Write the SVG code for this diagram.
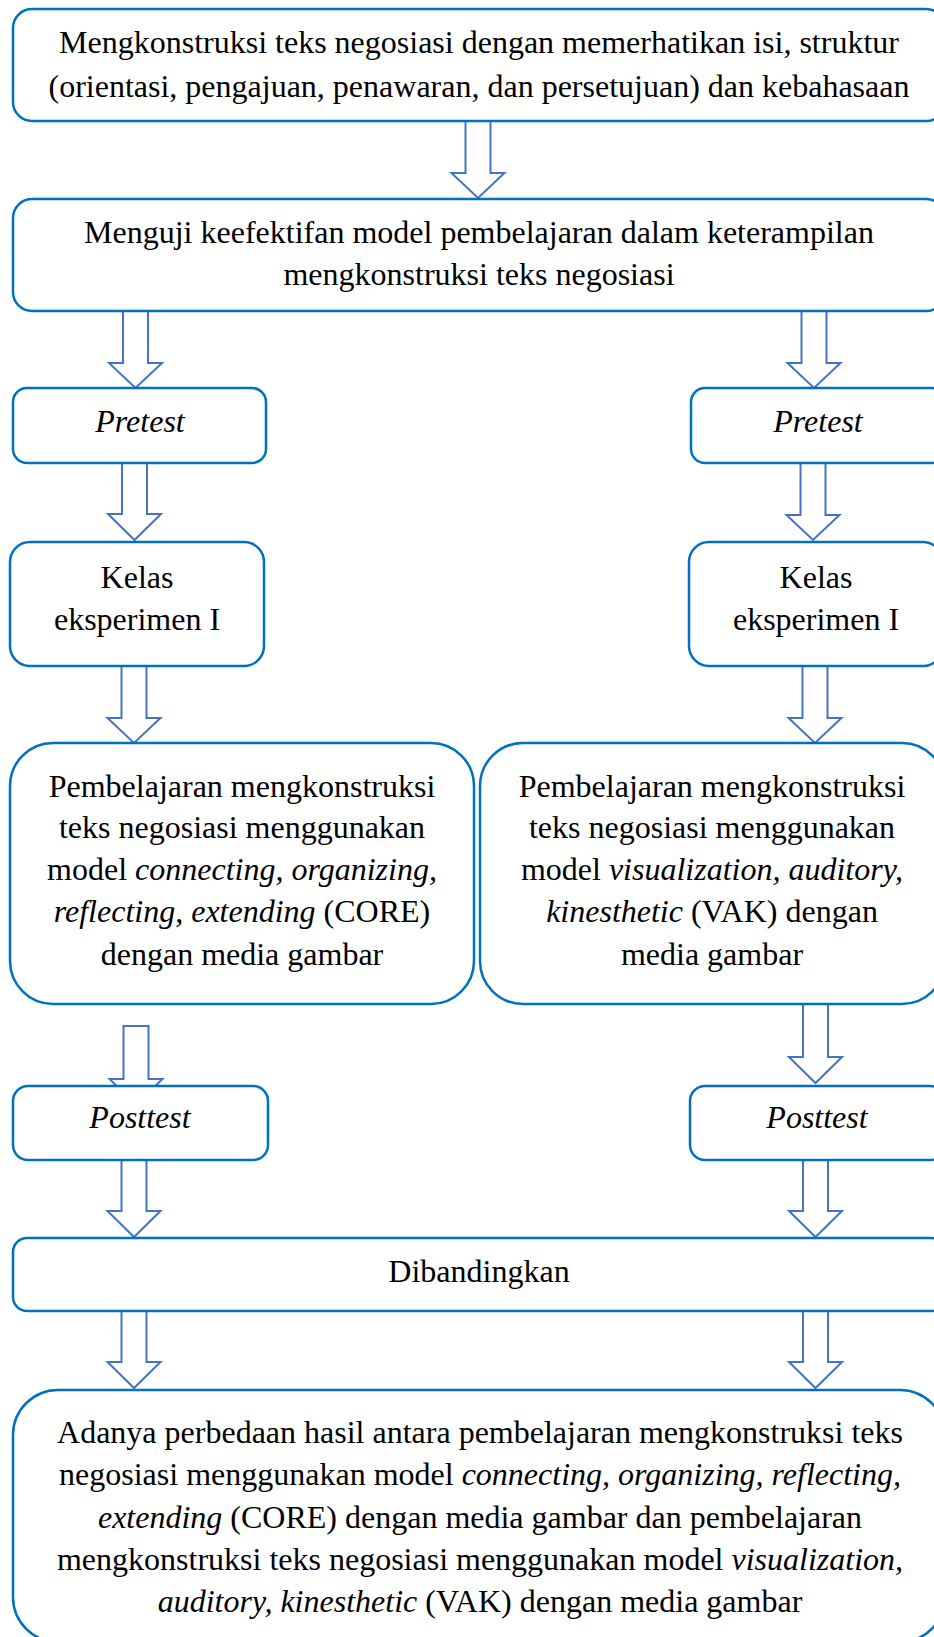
<svg xmlns="http://www.w3.org/2000/svg" width="934" height="1637" viewBox="0 0 934 1637">
  <style>
    .box { fill: #ffffff; stroke: #0070C0; stroke-width: 2.5; }
    .arrow { fill: #ffffff; stroke: #4472C4; stroke-width: 2; stroke-linejoin: miter; }
    text { font-family: "Liberation Serif", "Times New Roman", serif; font-size: 32px; fill: #000000; text-anchor: middle; }
    .it { font-style: italic; }
  </style>
  <rect width="934" height="1637" fill="#ffffff"/>

  <!-- block arrows: shaft 25 wide, head 53 wide -->
  <g id="connectors">
    <path class="arrow" d="M465.5,121 H490.5 V173 H504.5 L478,198 L451.5,173 H465.5 Z"/>
    <path class="arrow" d="M123,311 H148 V363 H162 L135.5,388 L109,363 H123 Z"/>
    <path class="arrow" d="M801.5,311 H826.5 V363 H840.5 L814,388 L787.5,363 H801.5 Z"/>
    <path class="arrow" d="M122,463 H147 V514 H161 L134.5,540 L108,514 H122 Z"/>
    <path class="arrow" d="M800.5,463 H825.5 V515 H839.5 L813,540 L786.5,515 H800.5 Z"/>
    <path class="arrow" d="M121.5,666 H146.5 V718 H160.5 L134,743 L107.5,718 H121.5 Z"/>
    <path class="arrow" d="M802.5,666 H827.5 V718 H841.5 L815,743 L788.5,718 H802.5 Z"/>
    <path class="arrow" d="M123.5,1026 H148.5 V1079 H162.5 L136,1105 L109.5,1079 H123.5 Z"/>
    <path class="arrow" d="M803,1004 H828 V1057 H842 L815.5,1083 L789,1057 H803 Z"/>
    <path class="arrow" d="M121.5,1160 H146.5 V1211 H160.5 L134,1237 L107.5,1211 H121.5 Z"/>
    <path class="arrow" d="M803,1160 H828 V1211 H842 L815.5,1237 L789,1211 H803 Z"/>
    <path class="arrow" d="M121.5,1311 H146.5 V1362 H160.5 L134,1388 L107.5,1362 H121.5 Z"/>
    <path class="arrow" d="M803,1311 H828 V1362 H842 L815.5,1388 L789,1362 H803 Z"/>
  </g>

  <g id="node-konstruksi">
    <rect class="box" x="13" y="9" width="932" height="112" rx="19"/>
    <text x="479" y="53">Mengkonstruksi teks negosiasi dengan memerhatikan isi, struktur</text>
    <text x="479" y="97">(orientasi, pengajuan, penawaran, dan persetujuan) dan kebahasaan</text>
  </g>

  <g id="node-menguji">
    <rect class="box" x="13" y="199" width="932" height="112" rx="19"/>
    <text x="479" y="243">Menguji keefektifan model pembelajaran dalam keterampilan</text>
    <text x="479" y="285">mengkonstruksi teks negosiasi</text>
  </g>

  <g id="node-pretest-1">
    <rect class="box" x="13" y="388" width="253" height="75" rx="14"/>
    <text x="140" y="432" class="it">Pretest</text>
  </g>

  <g id="node-pretest-2">
    <rect class="box" x="691" y="388" width="254" height="75" rx="14"/>
    <text x="818" y="432" class="it">Pretest</text>
  </g>

  <g id="node-kelas-1">
    <rect class="box" x="10" y="542" width="254" height="124" rx="20"/>
    <text x="137" y="588">Kelas</text>
    <text x="137" y="630">eksperimen I</text>
  </g>

  <g id="node-kelas-2">
    <rect class="box" x="689" y="542" width="254" height="124" rx="20"/>
    <text x="816" y="588">Kelas</text>
    <text x="816" y="630">eksperimen I</text>
  </g>

  <g id="node-core">
    <rect class="box" x="10" y="743" width="464" height="261" rx="43"/>
    <text x="242" y="797">Pembelajaran mengkonstruksi</text>
    <text x="242" y="838">teks negosiasi menggunakan</text>
    <text x="242" y="880">model <tspan class="it">connecting, organizing,</tspan></text>
    <text x="242" y="922"><tspan class="it">reflecting, extending</tspan> (CORE)</text>
    <text x="242" y="965">dengan media gambar</text>
  </g>

  <g id="node-vak">
    <rect class="box" x="480" y="743" width="465" height="261" rx="43"/>
    <text x="712" y="797">Pembelajaran mengkonstruksi</text>
    <text x="712" y="838">teks negosiasi menggunakan</text>
    <text x="712" y="880">model <tspan class="it">visualization, auditory,</tspan></text>
    <text x="712" y="922"><tspan class="it">kinesthetic</tspan> (VAK) dengan</text>
    <text x="712" y="965">media gambar</text>
  </g>

  <g id="node-posttest-1">
    <rect class="box" x="13" y="1086" width="255" height="74" rx="15"/>
    <text x="140" y="1128" class="it">Posttest</text>
  </g>

  <g id="node-posttest-2">
    <rect class="box" x="690" y="1086" width="255" height="74" rx="15"/>
    <text x="817" y="1128" class="it">Posttest</text>
  </g>

  <g id="node-dibandingkan">
    <rect class="box" x="13" y="1238" width="932" height="73" rx="14"/>
    <text x="479" y="1282">Dibandingkan</text>
  </g>

  <g id="node-hasil">
    <rect class="box" x="13" y="1390" width="932" height="252" rx="45"/>
    <text x="480" y="1443">Adanya perbedaan hasil antara pembelajaran mengkonstruksi teks</text>
    <text x="480" y="1485">negosiasi menggunakan model <tspan class="it">connecting, organizing, reflecting,</tspan></text>
    <text x="480" y="1528"><tspan class="it">extending</tspan> (CORE) dengan media gambar dan pembelajaran</text>
    <text x="480" y="1570">mengkonstruksi teks negosiasi menggunakan model <tspan class="it">visualization,</tspan></text>
    <text x="480" y="1612"><tspan class="it">auditory, kinesthetic</tspan> (VAK) dengan media gambar</text>
  </g>
</svg>
